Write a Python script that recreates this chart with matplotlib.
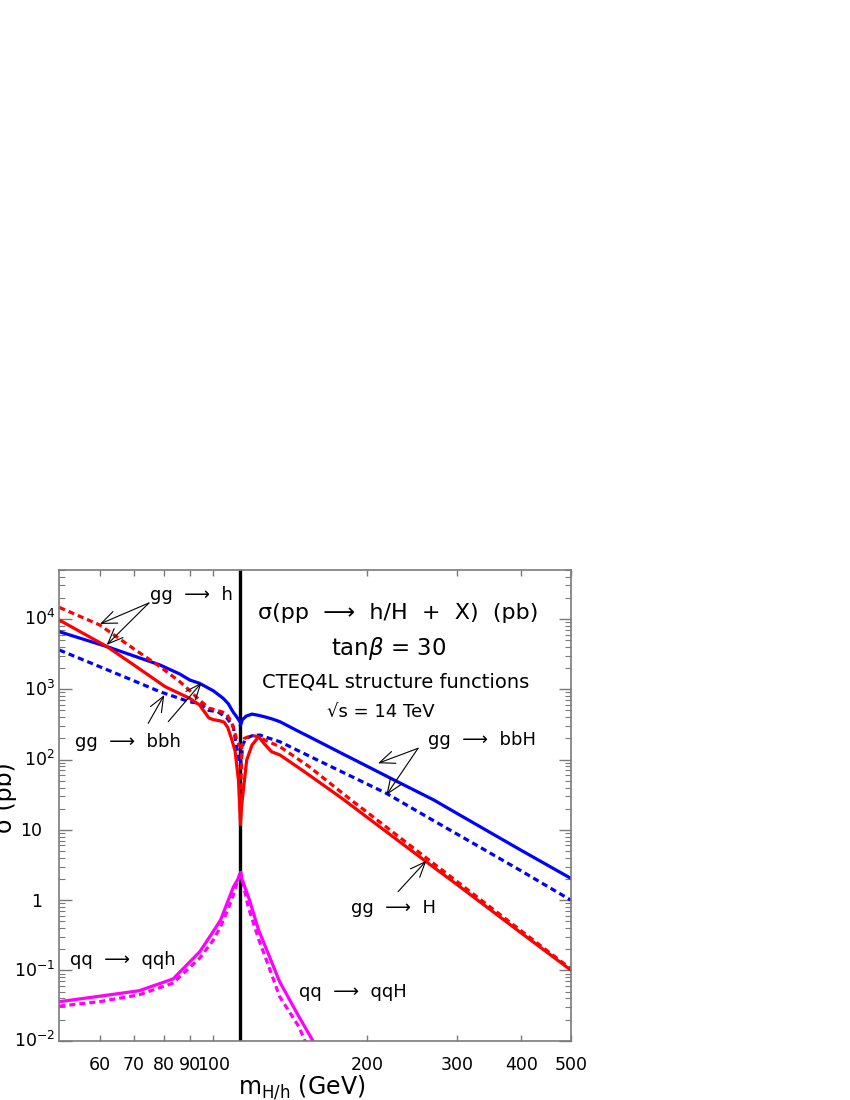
import matplotlib
matplotlib.use('Agg')
import matplotlib.pyplot as plt
from matplotlib.ticker import LogLocator, NullFormatter, NullLocator, FixedLocator

plt.rcParams['font.family'] = ['DejaVu Sans']
plt.rcParams['mathtext.fontset'] = 'dejavusans'

# ---------------- data ----------------
m_junction = 113.0  # boundary between h (light) and H (heavy) branches

# gg -> h / gg -> H  (red)
ggh_solid_x = [50, 55, 62, 70, 80.5, 90, 94, 98, 100, 103, 105, 106.7, 108.5, 110.3, 112, 113]
ggh_solid_y = [9640, 6550, 4030, 2200, 1087, 740, 596, 390, 370, 355, 340, 285, 200, 132, 50, 12]
ggh_dot_x = [50, 60, 70, 78.7, 86, 90, 94, 98, 104.6, 106, 108.7, 111.3, 113]
ggh_dot_y = [14600, 8190, 3730, 2090, 1280, 950, 700, 540, 470, 450, 335, 183, 150]
ggH_solid_x = [113, 113.5, 116.2, 119, 122.6, 126, 130, 135, 147, 154, 178.5, 200, 261, 300, 400, 500]
ggH_solid_y = [12, 21, 98, 160, 211, 165, 129, 116, 76, 60, 28, 15, 3.5, 1.65, 0.34, 0.101]
ggH_dot_x = [113, 113.6, 115, 119, 122, 126, 135, 154, 186, 200, 261, 300, 400, 500]
ggH_dot_y = [14, 150, 200, 220, 212, 190, 152, 79, 26.5, 17.7, 3.97, 1.82, 0.365, 0.105]

# gg -> bbh / gg -> bbH  (blue)
bbh_solid_x = [50, 55, 62, 70, 78.7, 86, 90, 94, 100, 104.6, 107, 109.4, 111.5, 113]
bbh_solid_y = [6580, 5300, 4030, 2970, 2210, 1645, 1350, 1214, 950, 740, 620, 470, 390, 335]
bbh_dot_x = [50, 60, 70, 78.7, 90, 94, 98, 102, 106.3, 109.4, 111.9, 113]
bbh_dot_y = [3610, 2090, 1315, 920, 660, 631, 500, 480, 390, 293, 110, 80]
bbH_solid_x = [113, 114, 116, 119, 122.6, 126, 130, 135, 147, 154, 178, 200, 227, 270, 300, 400, 500]
bbH_solid_y = [310, 370, 415, 443, 425, 405, 380, 345, 250, 211, 123, 80, 50, 26.5, 17, 5.1, 2.04]
bbH_dot_x = [113, 114.3, 116, 119, 123.3, 128, 135, 154, 218, 270, 331.6, 400, 500]
bbH_dot_y = [80, 166, 200, 218, 223, 203, 179, 112, 33, 13.4, 5.7, 2.6, 1.0]

# qq -> qqh / qq -> qqH  (magenta)
qqh_solid_x = [50, 60, 71.6, 83.4, 94.1, 100, 103.3, 106.5, 109.5, 113]
qqh_solid_y = [0.0359, 0.043, 0.0514, 0.0755, 0.1845, 0.36, 0.521, 0.92, 1.55, 2.28]
qqh_dot_x = [50, 60, 71.6, 83.4, 94.1, 100, 103.3, 106.5, 109.5, 113]
qqh_dot_y = [0.031, 0.036, 0.045, 0.066, 0.15, 0.27, 0.42, 0.7, 1.2, 2.6]
qqH_solid_x = [113, 117.7, 122.6, 128, 134.8, 147, 156.5, 165]
qqH_solid_y = [2.28, 1.0, 0.376, 0.174, 0.069, 0.022, 0.01, 0.0051]
qqH_dot_x = [113, 117, 122.6, 128, 134.8, 147, 151, 160]
qqH_dot_y = [2.6, 0.8, 0.28, 0.12, 0.0423, 0.0158, 0.01, 0.005]

x_tick_values = [60, 70, 80, 90, 100, 200, 300, 400, 500]
x_tick_labels = ['60', '70', '80', '90', '100', '200', '300', '400', '500']
y_tick_values = [1e-2, 1e-1, 1, 10, 1e2, 1e3, 1e4]
y_tick_labels = ['$10^{-2}$', '$10^{-1}$', '1', '10', '$10^{2}$', '$10^{3}$', '$10^{4}$']

# ---------------- figure ----------------
fig = plt.figure(figsize=(8.5, 11), dpi=100)
ax = fig.add_axes([0.0698, 0.0539, 0.6018, 0.4281])
ax.set_xscale('log')
ax.set_yscale('log')
ax.set_xlim(50, 500)
ax.set_ylim(1e-2, 5e4)

RED, BLUE, MAG = '#ff0000', '#0000ff', '#ff00ff'
LW = 2.3
DOT = (0, (1.9, 1.25))

ax.axvline(m_junction, color='black', lw=2.4, zorder=1.5)

for xs, ys, c, ls in [
    (bbh_solid_x, bbh_solid_y, BLUE, '-'), (bbh_dot_x, bbh_dot_y, BLUE, DOT),
    (bbH_solid_x, bbH_solid_y, BLUE, '-'), (bbH_dot_x, bbH_dot_y, BLUE, DOT),
    (ggh_dot_x, ggh_dot_y, RED, DOT), (ggh_solid_x, ggh_solid_y, RED, '-'),
    (ggH_dot_x, ggH_dot_y, RED, DOT), (ggH_solid_x, ggH_solid_y, RED, '-'),
    (qqh_dot_x, qqh_dot_y, MAG, DOT), (qqh_solid_x, qqh_solid_y, MAG, '-'),
    (qqH_dot_x, qqH_dot_y, MAG, DOT), (qqH_solid_x, qqH_solid_y, MAG, '-'),
]:
    ax.plot(xs, ys, color=c, lw=LW, linestyle=ls, zorder=2)

# ---------------- axes styling ----------------
GRAY = '#7a7a7a'
for s in ax.spines.values():
    s.set_color(GRAY)
    s.set_linewidth(1.2)

ax.xaxis.set_major_locator(FixedLocator(x_tick_values))
ax.set_xticklabels(x_tick_labels)
ax.xaxis.set_minor_locator(NullLocator())
ax.tick_params(axis='x', which='major', direction='in', length=4.5, width=1,
               color=GRAY, top=True, bottom=True, pad=11, labelsize=12.5)

ax.yaxis.set_major_locator(FixedLocator(y_tick_values))
ax.yaxis.set_minor_locator(LogLocator(base=10, subs=[2, 3, 4, 5, 6, 7, 8, 9], numticks=20))
ax.yaxis.set_minor_formatter(NullFormatter())
ax.set_yticklabels([''] * len(y_tick_values))
ax.tick_params(axis='y', which='major', direction='in', length=9, width=1,
               color=GRAY, left=True, right=True)
ax.tick_params(axis='y', which='minor', direction='in', length=4, width=0.8,
               color=GRAY, left=True, right=True)

for val, lab in zip(y_tick_values, y_tick_labels):
    xf = -0.0084 if '^' in lab else -0.0328
    ax.annotate(lab, xy=(xf, val), xycoords=('axes fraction', 'data'),
                xytext=(0, -4.6), textcoords='offset points',
                ha='right', va='baseline', fontsize=12.5, annotation_clip=False)

# axis labels
ax.text(-0.106, 0.516, 'σ (pb)', rotation=90, transform=ax.transAxes,
        ha='center', va='center', fontsize=17)
ax.text(0.474, -0.113, 'm$_{\\mathregular{H/h}}$ (GeV)', transform=ax.transAxes,
        ha='center', va='baseline', fontsize=17)

# title block
ax.text(0.663, 0.9076, 'σ(pp  ⟶  h/H  +  X)  (pb)', transform=ax.transAxes,
        ha='center', va='center', fontsize=16)
ax.text(0.644, 0.8333, 'tan$\\beta$ = 30', transform=ax.transAxes,
        ha='center', va='center', fontsize=16.5)
ax.text(0.658, 0.7624, 'CTEQ4L structure functions', transform=ax.transAxes,
        ha='center', va='center', fontsize=14)
ax.text(0.628, 0.6987, '√s = 14 TeV', transform=ax.transAxes,
        ha='center', va='center', fontsize=13)

# process labels
for txt, pos in [('gg  ⟶  h', (0.2582, 0.9464)),
                 ('gg  ⟶  bbh', (0.1342, 0.6343)),
                 ('gg  ⟶  bbH', (0.8266, 0.6386)),
                 ('gg  ⟶  H', (0.6537, 0.2818)),
                 ('qq  ⟶  qqh', (0.1245, 0.1714)),
                 ('qq  ⟶  qqH', (0.5746, 0.1041))]:
    ax.text(pos[0], pos[1], txt, transform=ax.transAxes, ha='center', va='center', fontsize=13)

# pointer arrows
arrows = [((0.1752, 0.9296), (0.0795, 0.8850)),
          ((0.1752, 0.9296), (0.0926, 0.8405)),
          ((0.1738, 0.6740), (0.2051, 0.7341)),
          ((0.2129, 0.6774), (0.2781, 0.7603)),
          ((0.7012, 0.6209), (0.6230, 0.5891)),
          ((0.7012, 0.6209), (0.6394, 0.5218)),
          ((0.6621, 0.3164), (0.7176, 0.3822))]
for start, tip in arrows:
    ax.annotate('', xy=tip, xytext=start, xycoords='axes fraction', textcoords='axes fraction',
                arrowprops=dict(arrowstyle='->,head_length=1.1,head_width=0.45',
                                color='black', lw=0.8, shrinkA=0, shrinkB=0))

fig.savefig('out.png', dpi=100)
